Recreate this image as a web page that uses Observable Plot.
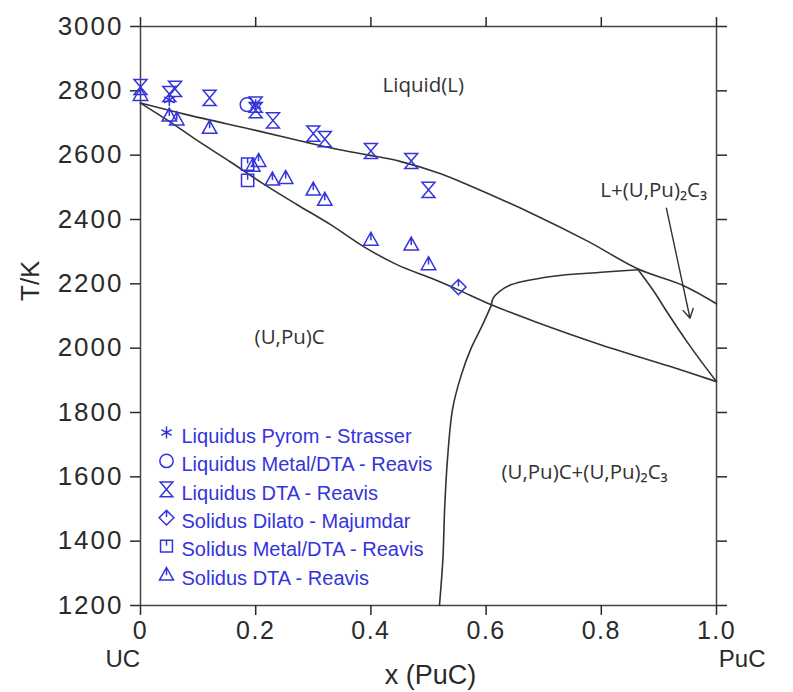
<!DOCTYPE html>
<html>
<head>
<meta charset="utf-8">
<script src="https://cdn.jsdelivr.net/npm/d3@7"></script>
<script src="https://cdn.jsdelivr.net/npm/@observablehq/plot@0.6"></script>
<style>
  html, body { margin: 0; padding: 0; background: #fff; }
  #chart svg { display: block; }
  g[aria-label="x-axis tick label"] text { letter-spacing: 1.5px; }
  g[aria-label="y-axis tick label"] text { letter-spacing: 2px; }
  g[aria-label="legend-text"] text { letter-spacing: 0.9px; }
</style>
</head>
<body>
<div id="chart"></div>
<script>
// ---- tick values ----
const xTicks = [0, 0.2, 0.4, 0.6, 0.8, 1.0];
const yTicks = [1200, 1400, 1600, 1800, 2000, 2200, 2400, 2600, 2800, 3000];

// ---- experimental points [x(PuC), T/K] ----
const liqPyromStrasser = [[0.05, 2772], [0.2, 2755]];
const liqMetalDTAReavis = [[0.185, 2757]];
const liqDTAReavis = [[0, 2812], [0.05, 2790], [0.06, 2806], [0.12, 2778], [0.2, 2757], [0.2, 2740],
  [0.23, 2708], [0.30, 2667], [0.32, 2650], [0.40, 2613], [0.47, 2582], [0.50, 2492]];
const solDilatoMajumdar = [[0.552, 2190]];
const solMetalDTAReavis = [[0.186, 2572], [0.186, 2522]];
const solDTAReavis = [[0, 2788], [0.05, 2724], [0.063, 2712], [0.12, 2686], [0.195, 2568], [0.205, 2583],
  [0.229, 2525], [0.252, 2530], [0.30, 2494], [0.32, 2462], [0.40, 2338], [0.47, 2323], [0.50, 2262]];

// ---- calculated phase boundaries [x, T] ----
const liquidusCurve = [[0, 2762], [0.08, 2726], [0.2, 2677], [0.278, 2644], [0.348, 2616], [0.394, 2601],
  [0.452, 2580], [0.52, 2543], [0.568, 2508], [0.684, 2415], [0.777, 2332], [0.864, 2246], [0.942, 2195], [1.0, 2138]];
const solidusCurve = [[0, 2762], [0.05, 2705], [0.099, 2645], [0.157, 2578], [0.214, 2510], [0.272, 2446],
  [0.33, 2384], [0.388, 2315], [0.446, 2259], [0.504, 2218], [0.551, 2182], [0.609, 2135], [0.684, 2083],
  [0.8, 2010], [0.916, 1945], [1.0, 1896]];
const monocarbideBoundary = [[0.519, 1200], [0.525, 1345], [0.528, 1500], [0.533, 1656], [0.542, 1813],
  [0.557, 1917], [0.574, 2000], [0.594, 2073], [0.609, 2133]];
const peritecticCurve = [[0.609, 2133], [0.612, 2155], [0.623, 2176], [0.643, 2197], [0.713, 2223],
  [0.8, 2236], [0.864, 2244]];
const sesquiLiquidus = [[0.864, 2244], [0.89, 2180], [0.915, 2110], [0.948, 2022], [0.975, 1955], [1.0, 1896]];

// ---- annotations ----
const regionLabels = [
  {x: 0.491, y: 2817, text: "Liquid(L)"},
  {x: 0.259, y: 2033, text: "(U,Pu)C"},
  {x: 0.771, y: 1613, text: "(U,Pu)C+(U,Pu)₂C₃"},
  {x: 0.891, y: 2490, text: "L+(U,Pu)₂C₃"}
];
const arrowData = [{x1: 0.913, y1: 2435, x2: 0.954, y2: 2093}];
const legendNames = [
  "Liquidus Pyrom - Strasser",
  "Liquidus Metal/DTA - Reavis",
  "Liquidus DTA - Reavis",
  "Solidus Dilato - Majumdar",
  "Solidus Metal/DTA - Reavis",
  "Solidus DTA - Reavis"
];

// ---- custom symbols ----
const R = (size) => Math.sqrt(size / Math.PI);
const hourglass = {draw(c, size) { const r = R(size);
  c.moveTo(-0.9*r, -1.05*r); c.lineTo(0.9*r, -1.05*r); c.lineTo(-0.9*r, 1.05*r); c.lineTo(0.9*r, 1.05*r); c.closePath(); }};
const triTick = {draw(c, size) { const r = R(size);
  c.moveTo(0, -1.0*r); c.lineTo(r, 0.8*r); c.lineTo(-r, 0.8*r); c.closePath();
  c.moveTo(0, -1.0*r); c.lineTo(0, 0.1*r); }};
const squareTick = {draw(c, size) { const r = R(size)*0.85;
  c.moveTo(-r, -r); c.lineTo(r, -r); c.lineTo(r, r); c.lineTo(-r, r); c.closePath();
  c.moveTo(0, -r); c.lineTo(0, -0.1*r); }};
const diamondTick = {draw(c, size) { const r = R(size)*1.05;
  c.moveTo(0, -r); c.lineTo(r, 0); c.lineTo(0, r); c.lineTo(-r, 0); c.closePath();
  c.moveTo(0, -r); c.lineTo(0, -0.1*r); }};
const circleSym = {draw(c, size) { const r = R(size)*0.95; c.moveTo(r, 0); c.arc(0, 0, r, 0, 2*Math.PI); }};
const asteriskSym = {draw(c, size) { const r = R(size)*0.85;
  for (let k = 0; k < 3; k++) { const a = Math.PI/2 + k*Math.PI/3;
    c.moveTo(r*Math.cos(a), r*Math.sin(a)); c.lineTo(-r*Math.cos(a), -r*Math.sin(a)); } }};

const blue = "#3434dc";
const series = [
  {data: liqPyromStrasser, symbol: asteriskSym},
  {data: liqMetalDTAReavis, symbol: circleSym},
  {data: liqDTAReavis, symbol: hourglass},
  {data: solDilatoMajumdar, symbol: diamondTick},
  {data: solMetalDTAReavis, symbol: squareTick},
  {data: solDTAReavis, symbol: triTick}
];

const ink = "#333";
const fmtX = d => d === 0 ? "0" : d.toFixed(1);
const fmtY = d => String(d);
const lineOpts = {x: d => d[0], y: d => d[1], curve: "catmull-rom", stroke: ink, strokeWidth: 1.6};

const legendTop = 406, legendStep = 28.4;

const chart = Plot.plot({
  width: 793,
  height: 692,
  marginLeft: 140,
  marginRight: 77,
  marginTop: 26,
  marginBottom: 87,
  x: {domain: [0, 1]},
  y: {domain: [1200, 3000]},
  style: {fontFamily: "'Liberation Sans', Arial, sans-serif", background: "white", color: "#2a2a2a"},
  marks: [
    Plot.frame({stroke: "#444", strokeWidth: 1.5}),
    Plot.axisX({anchor: "bottom", ticks: xTicks, tickFormat: fmtX, tickSize: 10, tickPadding: 6, fontSize: 25, label: null, strokeWidth: 1.5}),
    Plot.axisX({anchor: "top", ticks: xTicks, tickFormat: () => "", tickSize: 10, label: null, strokeWidth: 1.5}),
    Plot.axisY({anchor: "left", ticks: yTicks, tickFormat: fmtY, tickSize: 10, tickPadding: 7, fontSize: 26, label: null, strokeWidth: 1.5}),
    Plot.axisY({anchor: "right", ticks: yTicks, tickFormat: () => "", tickSize: 10, label: null, strokeWidth: 1.5}),

    Plot.line(liquidusCurve, lineOpts),
    Plot.line(solidusCurve, lineOpts),
    Plot.line(monocarbideBoundary, lineOpts),
    Plot.line(peritecticCurve, lineOpts),
    Plot.line(sesquiLiquidus, {...lineOpts, curve: "monotone-y"}),

    ...series.map(s => Plot.dot(s.data, {x: d => d[0], y: d => d[1], symbol: s.symbol, r: 7.2, stroke: blue, strokeWidth: 1.5, fill: "none"})),

    Plot.text(regionLabels, {x: "x", y: "y", text: "text", fontFamily: "'Open Sans', 'DejaVu Sans', sans-serif", fontSize: 20.5, fill: ink}),
    Plot.arrow(arrowData, {x1: "x1", y1: "y1", x2: "x2", y2: "y2", stroke: ink, strokeWidth: 1.4, headLength: 11, bend: 0}),

    // legend (one symbol + one label per row)
    ...series.map((s, i) => Plot.dot([legendNames[i]], {frameAnchor: "top-left", dx: 26, dy: legendTop + i*legendStep, symbol: s.symbol, r: 7, stroke: blue, strokeWidth: 1.5, fill: "none"})),
    ...legendNames.map((name, i) => Plot.text([name], {frameAnchor: "top-left", dx: 41, dy: legendTop - 4 + i*legendStep, text: d => d, textAnchor: "start", fontSize: 20, fill: blue, ariaLabel: "legend-text"})),

    // axis titles and end-member labels
    Plot.text(["T/K"], {frameAnchor: "left", dx: -110, dy: -15, rotate: -90, fontSize: 26, fill: "#2a2a2a"}),
    Plot.text(["x (PuC)"], {frameAnchor: "bottom", dx: 2, dy: 78, fontSize: 27, fill: "#2a2a2a"}),
    Plot.text(["UC"], {frameAnchor: "bottom-left", dx: -35, dy: 61, fontSize: 24, fill: "#2a2a2a"}),
    Plot.text(["PuC"], {frameAnchor: "bottom-right", dx: 49, dy: 61, fontSize: 24, fill: "#2a2a2a"})
  ]
});
document.getElementById("chart").appendChild(chart);
</script>
</body>
</html>
